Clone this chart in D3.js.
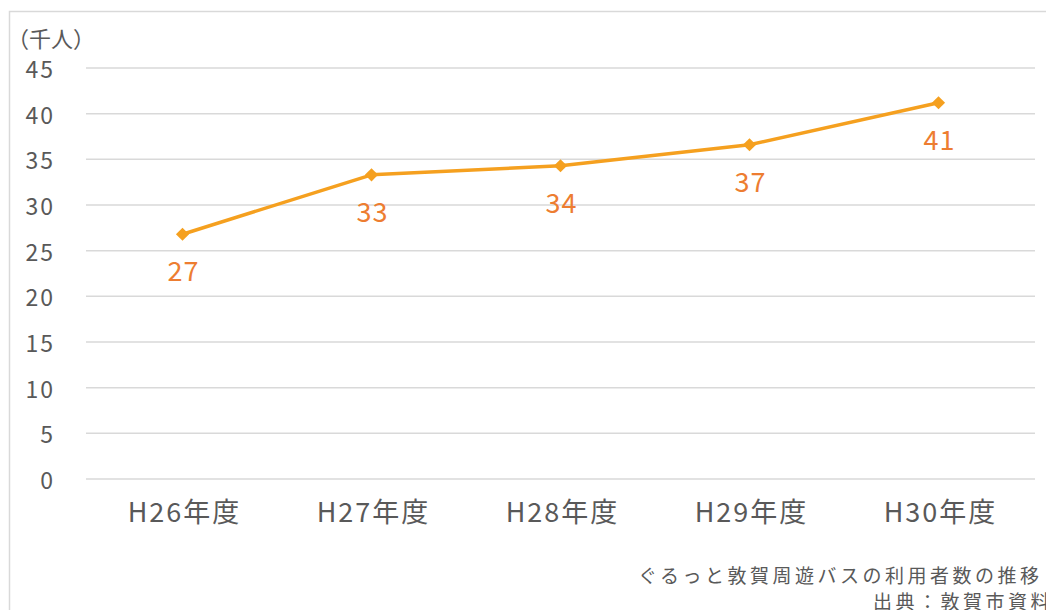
<!DOCTYPE html>
<html><head><meta charset="utf-8">
<script src="https://cdn.jsdelivr.net/npm/d3@7"></script>
<style>body{margin:0;background:#fff}svg{display:block}</style>
</head><body>
<svg id="c" width="1046" height="610"></svg>
<script>
const categories = ["H26年度","H27年度","H28年度","H29年度","H30年度"];
const values = [26.8, 33.3, 34.3, 36.6, 41.2];
const valueLabels = ["27","33","34","37","41"];
const yTicks = [0,5,10,15,20,25,30,35,40,45];
const unitLabel = "（千人）";
const footerLines = ["ぐるっと敦賀周遊バスの利用者数の推移","出典：敦賀市資料"];

const svg = d3.select("#c");
const font = "'Noto Sans CJK JP','Noto Sans',sans-serif";
svg.append("path").attr("d","M9.5,610 V11.5 H1046").attr("fill","none").attr("stroke","#d9d9d9").attr("stroke-width",1.5);

const x = d3.scaleBand().domain(categories).range([88,1033]);
const y = d3.scaleLinear().domain([0,45]).range([479,68]);

svg.append("g").selectAll("line").data(yTicks).join("line")
  .attr("x1",86).attr("x2",1035)
  .attr("y1",d=>y(d)).attr("y2",d=>y(d))
  .attr("stroke","#d9d9d9").attr("stroke-width",1.5);

const yAxis = d3.axisLeft(y).tickValues(yTicks).tickSize(0).tickPadding(0);
svg.append("g").attr("transform","translate(55,2)").call(yAxis)
  .call(a=>a.select(".domain").remove())
  .call(a=>a.selectAll("text").attr("font-family",font).attr("font-size",23).attr("letter-spacing",2).attr("fill","#595959"));

const xAxis = d3.axisBottom(x).tickSize(0).tickPadding(0);
svg.append("g").attr("transform","translate(2,503)").call(xAxis)
  .call(a=>a.select(".domain").remove())
  .call(a=>a.selectAll("text").attr("font-family",font).attr("font-size",27).attr("letter-spacing",2).attr("fill","#595959"));

svg.append("text").attr("x",7).attr("y",47).attr("font-family",font).attr("font-size",22).attr("fill","#595959").text(unitLabel);

const cx = d=>x(d)+x.bandwidth()/2;
const line = d3.line().x((d,i)=>cx(categories[i])).y(d=>y(d));
svg.append("path").datum(values).attr("d",line).attr("fill","none").attr("stroke","#F5A01F").attr("stroke-width",3.5).attr("stroke-linejoin","round");

svg.selectAll("path.pt").data(values).join("path")
  .attr("d",d3.symbol(d3.symbolDiamond2,110))
  .attr("transform",(d,i)=>`translate(${cx(categories[i])},${y(d)})`)
  .attr("fill","#F5A01F");

svg.selectAll("text.vl").data(values).join("text")
  .attr("x",(d,i)=>cx(categories[i])+1).attr("y",d=>y(d)+47)
  .attr("text-anchor","middle").attr("font-family",font).attr("font-size",27).attr("letter-spacing",1)
  .attr("fill","#ED7D31").text((d,i)=>valueLabels[i]);

const footerX = [638, 873];
svg.selectAll("text.ft").data(footerLines).join("text")
  .attr("x",(d,i)=>footerX[i]).attr("y",(d,i)=>583+i*26)
  .attr("font-family",font).attr("font-size",19).attr("letter-spacing",3.5).attr("fill","#595959")
  .text(d=>d);
</script>
</body></html>
